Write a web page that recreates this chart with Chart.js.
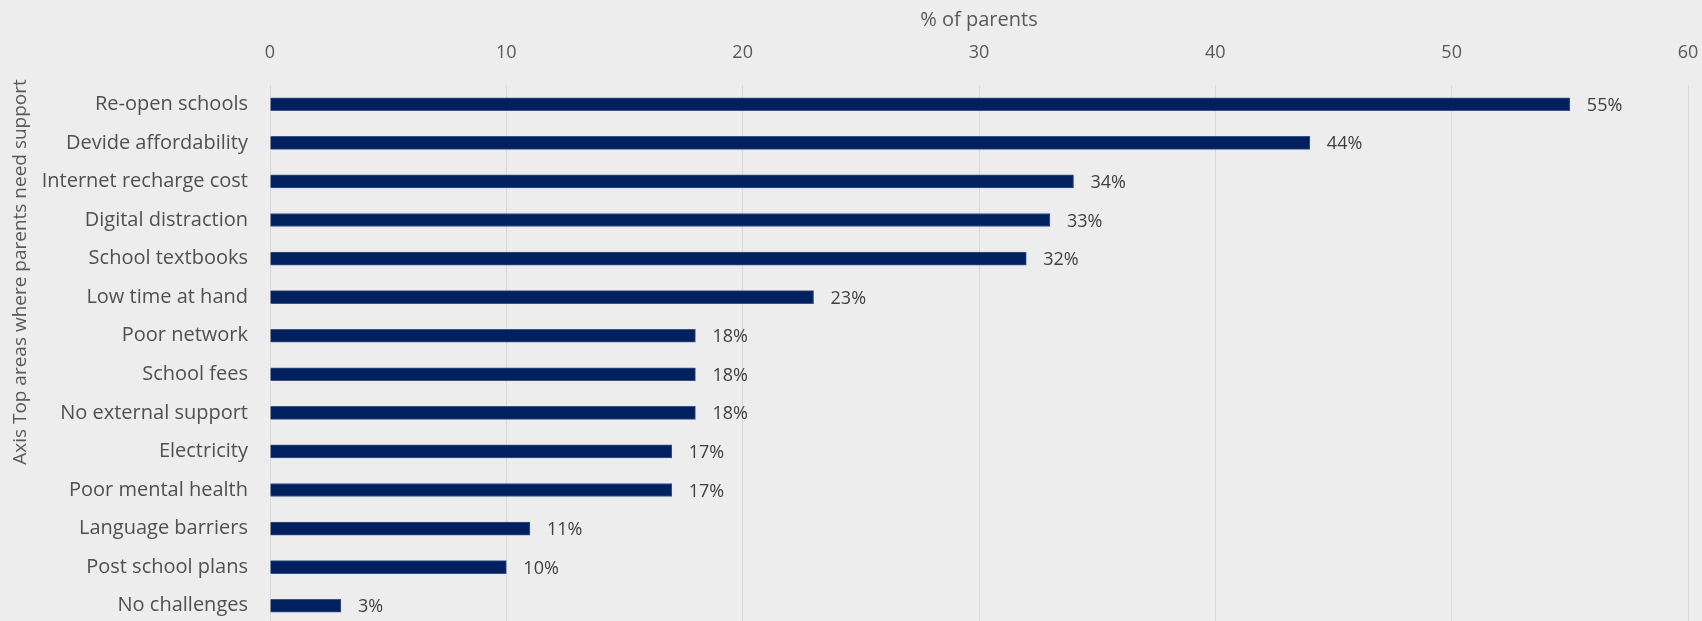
<!DOCTYPE html>
<html>
<head>
<meta charset="utf-8">
<script src="https://cdn.jsdelivr.net/npm/chart.js@4/dist/chart.umd.min.js"></script>
<style>
  html, body { margin: 0; padding: 0; background: #ededed; overflow: hidden; }
  canvas { display: block; }
</style>
</head>
<body>
<canvas id="chart" width="1702" height="625"></canvas>
<script>
// Top areas where parents need support (% of parents)
const categories = [
  "Re-open schools",
  "Devide affordability",
  "Internet recharge cost",
  "Digital distraction",
  "School textbooks",
  "Low time at hand",
  "Poor network",
  "School fees",
  "No external support",
  "Electricity",
  "Poor mental health",
  "Language barriers",
  "Post school plans",
  "No challenges"
];
const shares = [55, 44, 34, 33, 32, 23, 18, 18, 18, 17, 17, 11, 10, 3];
const xTicks = [0, 10, 20, 30, 40, 50, 60];
const xTitle = "% of parents";
const yTitle = "Axis Top areas where parents need support";

const FONT = "'Open Sans', 'Noto Sans', sans-serif";

// Percentage labels to the right of each bar
const valueLabels = {
  id: 'valueLabels',
  afterDatasetsDraw(chart) {
    const ctx = chart.ctx;
    const meta = chart.getDatasetMeta(0);
    ctx.save();
    ctx.font = "18px " + FONT;
    ctx.fillStyle = '#404040';
    ctx.textAlign = 'left';
    ctx.textBaseline = 'middle';
    meta.data.forEach((bar, i) => {
      ctx.fillText(shares[i] + '%', bar.x + 17, bar.y + 1.5);
    });
    ctx.restore();
  }
};

// Rotated category-axis title on the left edge
const sideTitle = {
  id: 'sideTitle',
  afterDraw(chart) {
    const ctx = chart.ctx;
    ctx.save();
    ctx.translate(21, 272);
    ctx.rotate(-Math.PI / 2);
    ctx.font = "19px " + FONT;
    ctx.fillStyle = '#595959';
    ctx.textAlign = 'center';
    ctx.textBaseline = 'middle';
    ctx.fillText(yTitle, 0, 0);
    ctx.restore();
  }
};

// Drop the extra edge padding the scales reserve for overhanging labels
function noEdgePadding(scale) {
  scale.paddingLeft = 0;
  scale.paddingRight = 0;
  scale.paddingTop = 0;
  scale.paddingBottom = 0;
}

new Chart(document.getElementById('chart'), {
  type: 'bar',
  data: {
    labels: categories,
    datasets: [{
      data: shares,
      backgroundColor: '#002060',
      borderColor: '#3a5283',
      borderWidth: 1,
      borderSkipped: 'start',
      barThickness: 13
    }]
  },
  options: {
    indexAxis: 'y',
    responsive: false,
    animation: false,
    devicePixelRatio: 1,
    layout: { padding: { left: 0, right: 14, top: 0, bottom: 0 } },
    plugins: {
      legend: { display: false },
      tooltip: { enabled: false }
    },
    scales: {
      x: {
        position: 'top',
        min: 0,
        max: 60,
        afterBuildTicks(scale) {
          scale.ticks = xTicks.map(v => ({ value: v }));
        },
        afterFit(scale) { scale.height = 85; noEdgePadding(scale); },
        grid: { color: '#d9d9d9', lineWidth: 1, drawTicks: false },
        border: { display: false },
        ticks: {
          padding: 21,
          color: '#595959',
          font: { family: FONT, size: 18 }
        },
        title: {
          display: true,
          text: xTitle,
          color: '#595959',
          font: { family: FONT, size: 20 },
          padding: { top: 8, bottom: 0 }
        }
      },
      y: {
        afterFit(scale) { scale.width = 270; noEdgePadding(scale); },
        grid: { display: false, drawTicks: false },
        border: { display: false },
        ticks: {
          padding: 22,
          color: '#505050',
          font: { family: FONT, size: 20 }
        }
      }
    }
  },
  plugins: [valueLabels, sideTitle]
});
</script>
</body>
</html>
